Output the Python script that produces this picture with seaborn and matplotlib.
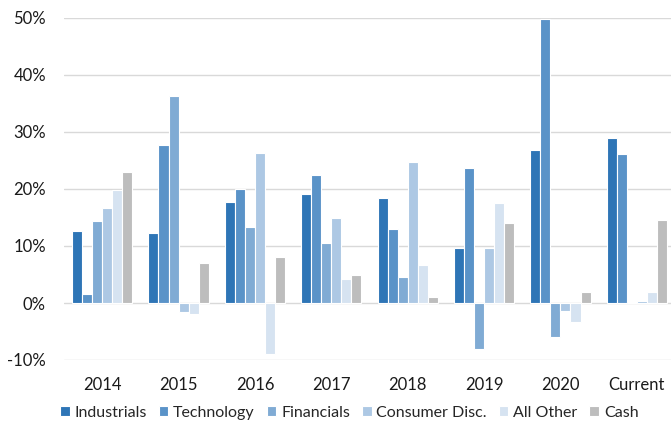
import pandas as pd
import matplotlib.pyplot as plt
import seaborn as sns

# data (returns in %)
periods = ["2014", "2015", "2016", "2017", "2018", "2019", "2020", "Current"]
sectors = ["Industrials", "Technology", "Financials", "Consumer Disc.", "All Other", "Cash"]

industrials = [12.7, 12.2, 17.8, 19.2, 18.5, 9.6, 26.9, 28.9]
technology = [1.5, 27.7, 20.0, 22.5, 13.0, 23.7, 49.8, 26.2]
financials = [14.4, 36.4, 13.3, 10.5, 4.6, -8.0, -6.0, 0.1]
consumer_disc = [16.7, -1.5, 26.3, 14.9, 24.7, 9.6, -1.4, 0.3]
all_other = [19.8, -2.0, -9.0, 4.2, 6.6, 17.6, -3.4, 2.0]
cash = [23.0, 7.0, 8.0, 5.0, 1.0, 14.0, 2.0, 14.5]

colors = ["#2E75B6", "#5A93C8", "#80ABD4", "#ADC8E4", "#D6E3F1", "#BDBDBD"]

series = [industrials, technology, financials, consumer_disc, all_other, cash]
rows = []
for name, vals in zip(sectors, series):
    for p, v in zip(periods, vals):
        rows.append({"period": p, "sector": name, "ret": v})
df = pd.DataFrame(rows)

sns.set_style("white")
plt.rcParams["font.family"] = ["Lato", "DejaVu Sans"]

fig = plt.figure(figsize=(6.71, 4.21), dpi=100)
ax = fig.add_axes([64 / 671, 61 / 421, 611 / 671, 342 / 421])

sns.barplot(
    data=df, x="period", y="ret", hue="sector",
    order=periods, hue_order=sectors, palette=colors, saturation=1,
    width=0.79, edgecolor="white", linewidth=0.8, ax=ax,
)

ax.set_ylim(-10, 50)
ax.set_xlim(-0.5, 7.5)
ax.set_yticks(range(-10, 51, 10))
ax.set_yticklabels([f"{t}%" for t in range(-10, 51, 10)])
ax.yaxis.grid(True, color="#D9D9D9", linewidth=1.0)
ax.set_axisbelow(True)
ax.set_xlabel("")
ax.set_ylabel("")
sns.despine(ax=ax, left=True, bottom=True, top=True, right=True)
ax.tick_params(axis="y", length=0, pad=13, labelsize=12, labelcolor="#1a1a1a")
ax.tick_params(axis="x", length=0, pad=12, labelsize=12, labelcolor="#1a1a1a")

handles, labels = ax.get_legend_handles_labels()
ax.get_legend().remove()
fig.legend(
    handles, labels, loc="center left",
    bbox_to_anchor=(60 / 671, 1 - 413 / 421),
    ncol=6, frameon=False, fontsize=11.5,
    handlelength=0.6, handleheight=0.6, handletextpad=0.3,
    columnspacing=0.75, borderpad=0, borderaxespad=0,
)

plt.savefig("out.png", dpi=100)
